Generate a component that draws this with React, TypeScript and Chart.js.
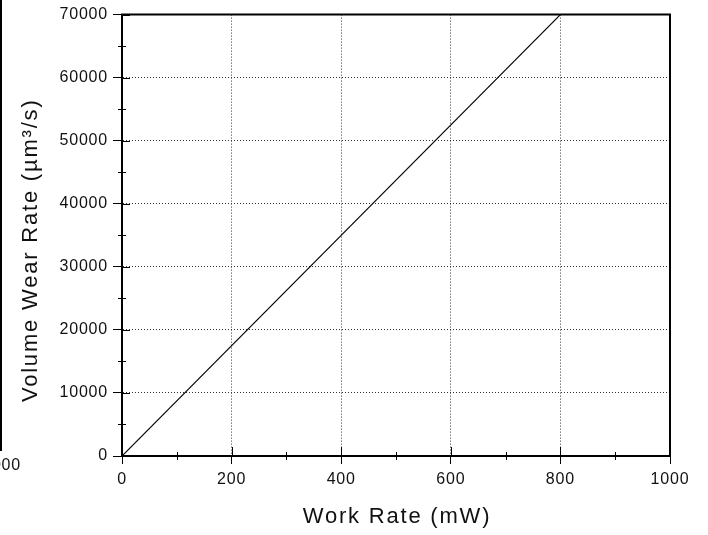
import { useEffect, useRef } from "react";
import { Chart, registerables } from "chart.js";

Chart.register(...registerables);

const workRate = [0, 800];
const wearRate = [0, 70000];
const xMajorTicks = [0, 200, 400, 600, 800, 1000];
const xMinorTicks = [100, 300, 500, 700, 900];
const yMajorTicks = [0, 10000, 20000, 30000, 40000, 50000, 60000, 70000];
const yMinorTicks = [5000, 15000, 25000, 35000, 45000, 55000, 65000];
const xTitle = "Work Rate (mW)";
const yTitle = "Volume Wear Rate (µm³/s)";
const neighbourLabel = "1000";

const FONT = "'Liberation Sans', Arial, Helvetica, sans-serif";
const INK = "#111";

const decorPlugin = {
  id: "decor",
  beforeDraw(chart: any) {
    (chart.ctx as any).letterSpacing = "0.8px";
  },
  afterDraw(chart: any) {
    const ctx = chart.ctx as CanvasRenderingContext2D & { letterSpacing?: string };
    const { left, right, top, bottom } = chart.chartArea;
    const xs = chart.scales.x;
    const ys = chart.scales.y;
    ctx.save();
    ctx.strokeStyle = "#000";
    ctx.lineWidth = 2;
    ctx.beginPath();
    ctx.moveTo(left - 1, top);
    ctx.lineTo(right, top);
    ctx.moveTo(right, top - 1);
    ctx.lineTo(right, bottom);
    ctx.stroke();
    ctx.lineWidth = 1;
    ctx.beginPath();
    xMajorTicks.forEach((v) => {
      const px = Math.round(xs.getPixelForValue(v)) + 0.5;
      ctx.moveTo(px, bottom);
      ctx.lineTo(px, bottom - 9);
    });
    xMinorTicks.forEach((v) => {
      const px = Math.round(xs.getPixelForValue(v)) + 0.5;
      ctx.moveTo(px, bottom - 4);
      ctx.lineTo(px, bottom + 4);
    });
    yMajorTicks.forEach((v) => {
      const py = Math.round(ys.getPixelForValue(v)) + 0.5;
      ctx.moveTo(left, py);
      ctx.lineTo(left + 8, py);
    });
    yMinorTicks.forEach((v) => {
      const py = Math.round(ys.getPixelForValue(v)) + 0.5;
      ctx.moveTo(left - 4, py);
      ctx.lineTo(left + 4, py);
    });
    ctx.stroke();

    ctx.fillStyle = INK;
    ctx.font = `22px ${FONT}`;
    ctx.letterSpacing = "1.8px";
    ctx.textAlign = "center";
    ctx.textBaseline = "middle";
    ctx.fillText(xTitle, (left + right) / 2 + 1, 517);
    ctx.save();
    ctx.translate(31, (top + bottom) / 2 + 16);
    ctx.rotate(-Math.PI / 2);
    ctx.fillText(yTitle, 1, 0);
    ctx.restore();

    ctx.lineWidth = 2;
    ctx.beginPath();
    ctx.moveTo(1, 0);
    ctx.lineTo(1, 451);
    ctx.stroke();
    ctx.font = `16px ${FONT}`;
    ctx.letterSpacing = "0.8px";
    ctx.textAlign = "right";
    ctx.fillText(neighbourLabel, 21, 466);
    ctx.restore();
  },
};

export default function App() {
  const ref = useRef<HTMLCanvasElement | null>(null);
  useEffect(() => {
    document.body.style.margin = "0";
    const canvas = ref.current!;
    const gridColor = (c: any) =>
      c.tick && (c.tick.value === c.scale.min || c.tick.value === c.scale.max)
        ? "rgba(0,0,0,0)"
        : "#333";
    const chart = new Chart(canvas, {
      type: "scatter",
      data: {
        datasets: [
          {
            data: workRate.map((x, i) => ({ x, y: wearRate[i] })),
            showLine: true,
            borderColor: "#000",
            borderWidth: 1.2,
            pointRadius: 0,
            fill: false,
          },
        ],
      },
      options: {
        animation: false,
        responsive: false,
        devicePixelRatio: 1,
        layout: { padding: { left: 0, top: 13, right: 38, bottom: 0 } },
        plugins: { legend: { display: false }, tooltip: { enabled: false } },
        scales: {
          x: {
            type: "linear",
            min: 0,
            max: 1000,
            afterFit: (s: any) => {
              s.height = 79;
            },
            ticks: {
              stepSize: 200,
              color: INK,
              font: { family: FONT, size: 16 },
              padding: 6,
              maxRotation: 0,
              callback: (v: any) => String(v),
            },
            grid: {
              color: gridColor,
              lineWidth: 1,
              tickLength: 8,
              tickColor: "#000",
              tickWidth: 1,
            },
            border: { display: true, color: "#000", width: 2, dash: [1, 2] },
          },
          y: {
            type: "linear",
            min: 0,
            max: 70000,
            afterFit: (s: any) => {
              s.width = 122;
            },
            ticks: {
              stepSize: 10000,
              color: INK,
              font: { family: FONT, size: 16 },
              padding: 5,
              callback: (v: any) => String(v),
            },
            grid: {
              color: gridColor,
              lineWidth: 1,
              tickLength: 9,
              tickColor: "#000",
              tickWidth: 1,
            },
            border: { display: true, color: "#000", width: 2, dash: [1, 2] },
          },
        },
      },
      plugins: [decorPlugin],
    });
    return () => chart.destroy();
  }, []);
  return <canvas ref={ref} width={708} height={535} style={{ display: "block" }} />;
}
